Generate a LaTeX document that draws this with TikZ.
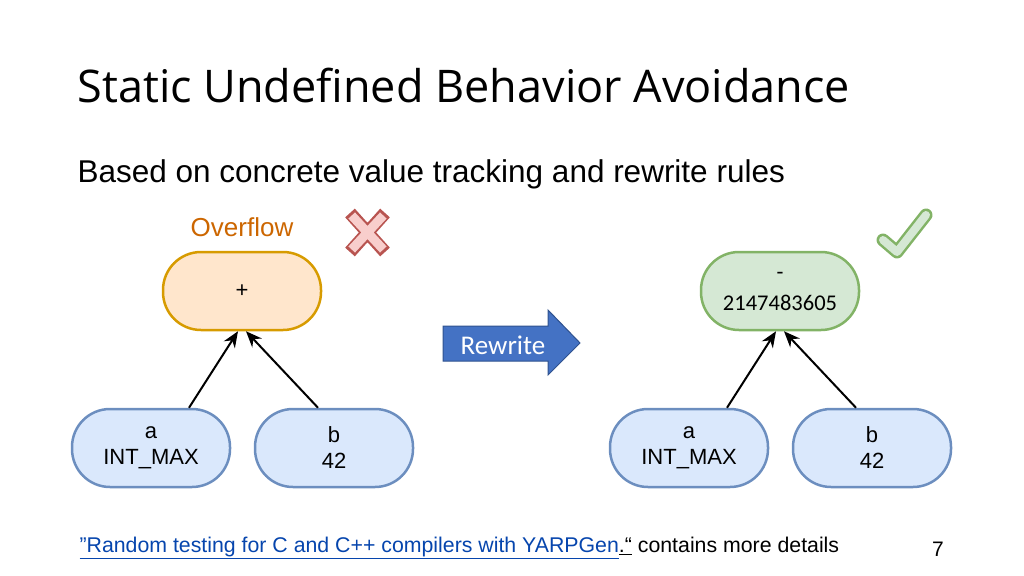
\documentclass[tikz,border=0pt]{standalone}
\usetikzlibrary{arrows.meta}
\usepackage{fontspec}
\setmainfont{Liberation Sans}
\newfontfamily\titlefont{Open Sans}
\newfontfamily\calfont{Carlito}
\definecolor{bfill}{RGB}{218,232,252}
\definecolor{bdraw}{RGB}{108,142,191}
\definecolor{ofill}{RGB}{255,230,204}
\definecolor{odraw}{RGB}{215,155,0}
\definecolor{gfill}{RGB}{213,232,212}
\definecolor{gdraw}{RGB}{130,179,102}
\definecolor{ovc}{RGB}{204,102,0}
\definecolor{rwf}{RGB}{68,114,196}
\definecolor{rwd}{RGB}{47,82,143}
\definecolor{xd}{RGB}{184,84,80}
\definecolor{xf}{RGB}{248,206,204}
\definecolor{linkc}{RGB}{6,69,173}
\begin{document}
\begin{tikzpicture}[x=1pt,y=-1pt,
 pill/.style={rounded corners=38pt,minimum width=158pt,minimum height=78pt,line width=2.5pt,align=center,font=\fontsize{22}{26}\selectfont},
 orange/.style={pill,fill=ofill,draw=odraw},
 green/.style={pill,fill=gfill,draw=gdraw},
 blue/.style={pill,fill=bfill,draw=bdraw},
 arr/.style={-{Stealth[length=16pt,width=13pt]},line width=2pt}]
\useasboundingbox (0,0) rectangle (1024,575);
\node[anchor=west,font=\titlefont\fontsize{45}{50}\selectfont] (title) at (74,86) {Static Undefined Behavior Avoidance};
\node[anchor=west,font=\fontsize{31.5}{36}\selectfont] (sub) at (74,174) {Based on concrete value tracking and rewrite rules};
\node[orange] (plus) at (242,291) {+};
\node[green,font=\calfont\fontsize{22.5}{31}\selectfont] (minus) at (780,291) {-\\2147483605};
\node[blue] (a1) at (151,448) {a\\INT\_MAX};
\node[blue] (b1) at (334,448) {b\\42};
\node[blue] (a2) at (689,448) {a\\INT\_MAX};
\node[blue] (b2) at (872,448) {b\\42};
\draw[arr] ([xshift=38pt]a1.north) -- ([xshift=-4pt]plus.south);
\draw[arr] ([xshift=-16pt]b1.north) -- ([xshift=4pt]plus.south);
\draw[arr] ([xshift=38pt]a2.north) -- ([xshift=-4pt]minus.south);
\draw[arr] ([xshift=-16pt]b2.north) -- ([xshift=4pt]minus.south);
\node[font=\fontsize{26}{30}\selectfont,text=ovc] (ovf) at (242,227) {Overflow};
\filldraw[fill=rwf,draw=rwd,line width=1pt] (443,326) -- (548,326) -- (548,310) -- (580,343) -- (548,375) -- (548,361) -- (443,361) -- cycle;
\node[text=white,font=\calfont\fontsize{27}{30}\selectfont] (rw) at (503,345) {Rewrite};
\begin{scope}[line cap=butt]
\draw[line width=13pt,xd] (350,213)--(385,252) (385,213)--(350,252);
\draw[line width=9pt,xf] (351.7,215.5)--(383.3,249.5) (383.3,215.5)--(351.7,249.5);
\draw[line width=13pt,gdraw,line join=round,line cap=round] (883,240)--(897,252)--(926,215);
\draw[line width=8pt,gfill,line join=round,line cap=round] (883,240)--(897,252)--(926,215);
\end{scope}
\node[anchor=west,font=\fontsize{21.3}{24}\selectfont] (ref) at (76,548) {\textcolor{linkc}{\underline{\symbol{34}Random testing for C and C++ compilers with YARPGen}}\underline{.“} contains more details};
\node[font=\fontsize{21}{24}\selectfont] (pg) at (938,549) {7};
\end{tikzpicture}
\end{document}
